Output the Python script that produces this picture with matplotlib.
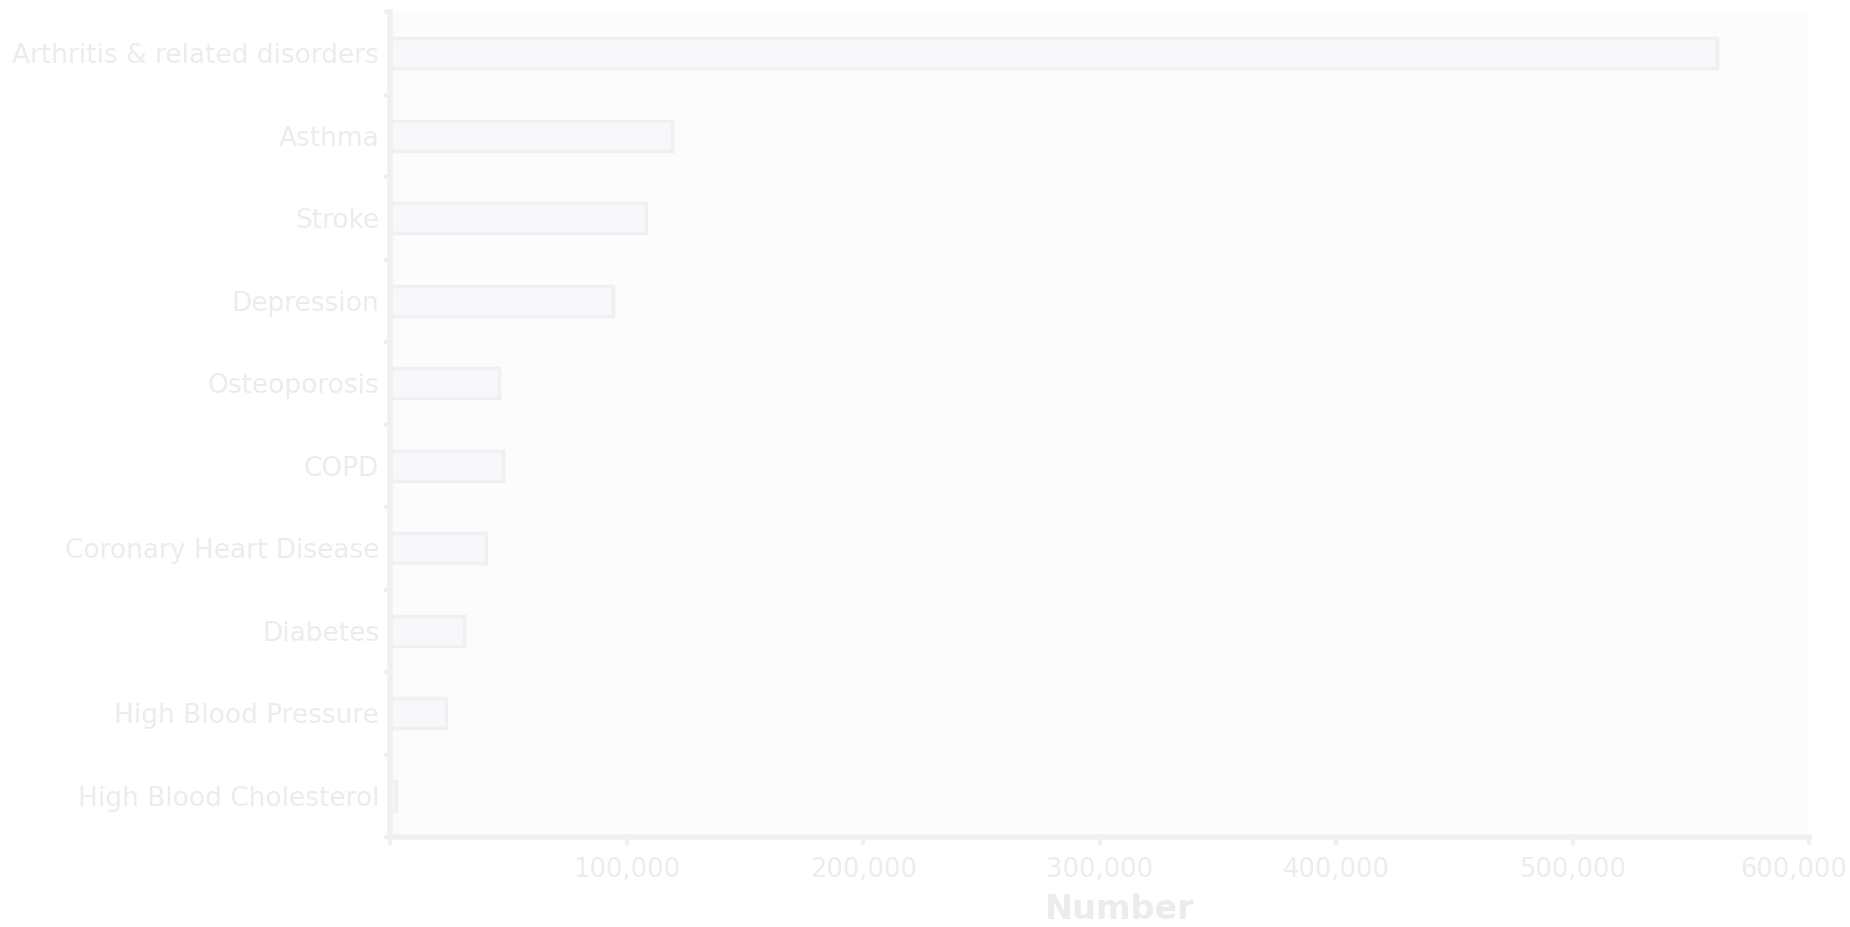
import matplotlib
matplotlib.use('Agg')
import matplotlib.pyplot as plt
from matplotlib.ticker import FuncFormatter
import matplotlib.transforms as mtransforms

# Data (largest at top)
conditions = [
    "Arthritis & related disorders",
    "Asthma",
    "Stroke",
    "Depression",
    "Osteoporosis",
    "COPD",
    "Coronary Heart Disease",
    "Diabetes",
    "High Blood Pressure",
    "High Blood Cholesterol",
]
numbers = [561000, 119000, 108000, 94000, 46000, 47500, 40500, 31000, 23500, 2500]
x_ticks = [100000, 200000, 300000, 400000, 500000, 600000]

text_col = '#ececec'
line_col = '#f0f0f0'

fig = plt.figure(figsize=(18.5, 9.27), dpi=100)
ax = fig.add_axes([0.211, 0.097, 0.767, 0.890])
ax.set_facecolor('#fcfcfc')

ypos = list(range(len(conditions)))
ax.barh(ypos, numbers, height=0.36, color='#f8f8fc', edgecolor=line_col, linewidth=2.5)

ax.set_xlim(0, 600000)
ax.set_ylim(len(conditions) - 0.5, -0.5)
ax.set_yticks(ypos)
ax.set_yticklabels(conditions)
# boundary ticks on the y axis
ax.set_yticks([i - 0.5 for i in range(len(conditions) + 1)], minor=True)
ax.tick_params(axis='y', which='major', length=0, pad=8, labelsize=19, labelcolor=text_col)
ax.tick_params(axis='y', which='minor', length=4, width=3, color=line_col)

ax.set_xticks(x_ticks)
ax.xaxis.set_major_formatter(FuncFormatter(lambda v, p: f"{int(v):,}"))
ax.set_xticks([0], minor=True)
ax.tick_params(axis='x', which='both', length=6, width=3, color=line_col,
               labelsize=18.5, labelcolor=text_col, pad=8)

# nudge the last tick label so it stays inside the picture
last = ax.get_xticklabels()[-1]
last.set_transform(last.get_transform() + mtransforms.ScaledTranslation(-0.16, 0, fig.dpi_scale_trans))

for side in ['top', 'right']:
    ax.spines[side].set_visible(False)
for side in ['left', 'bottom']:
    ax.spines[side].set_color(line_col)
    ax.spines[side].set_linewidth(4)

ax.set_xlabel("Number", fontsize=24, fontweight='bold', color=text_col)
ax.xaxis.label.set_va('center')
ax.xaxis.set_label_coords(0.514, -0.088)

fig.savefig('out.png', dpi=100, facecolor='white')
